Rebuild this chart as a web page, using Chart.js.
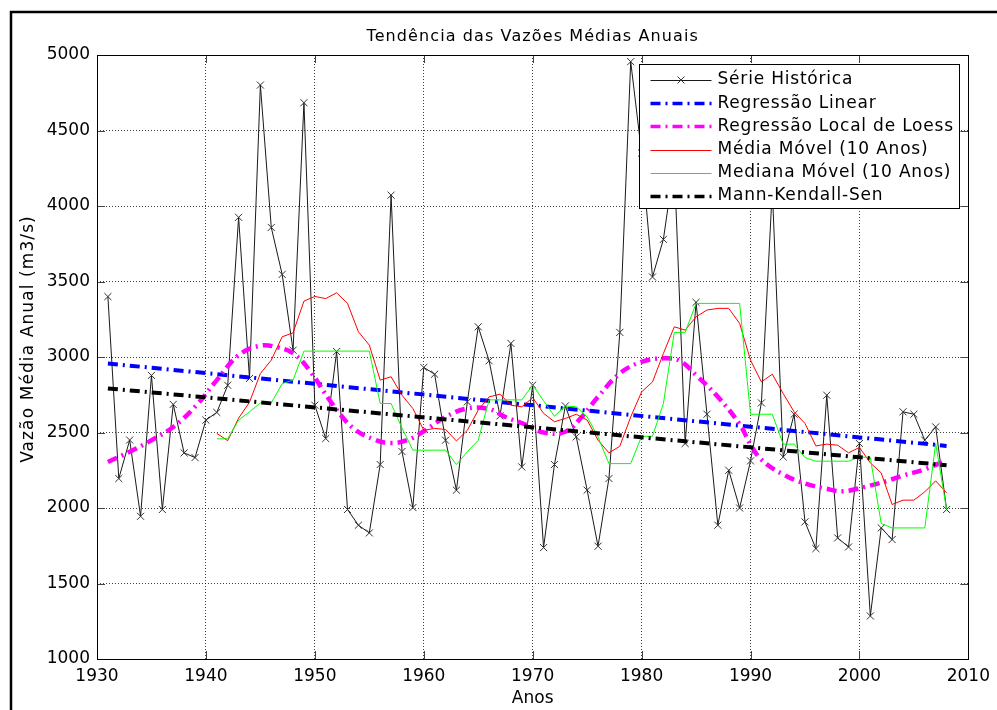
<!DOCTYPE html>
<html lang="pt-BR">
<head>
<meta charset="utf-8">
<title>Tendência das Vazões Médias Anuais</title>
<script src="https://cdn.jsdelivr.net/npm/chart.js@4.4.1/dist/chart.umd.min.js"></script>
<style>
  html, body { margin: 0; padding: 0; background: #fff; }
  canvas { display: block; }
</style>
</head>
<body>
<canvas id="grafico" width="997" height="710"></canvas>
<script>
// Vazões médias anuais observadas (m3/s)
const anos = [1931, 1932, 1933, 1934, 1935, 1936, 1937, 1938, 1939, 1940,
              1941, 1942, 1943, 1944, 1945, 1946, 1947, 1948, 1949, 1950,
              1951, 1952, 1953, 1954, 1955, 1956, 1957, 1958, 1959, 1960,
              1961, 1962, 1963, 1964, 1965, 1966, 1967, 1968, 1969, 1970,
              1971, 1972, 1973, 1974, 1975, 1976, 1977, 1978, 1979, 1980,
              1981, 1982, 1983, 1984, 1985, 1986, 1987, 1988, 1989, 1990,
              1991, 1992, 1993, 1994, 1995, 1996, 1997, 1998, 1999, 2000,
              2001, 2002, 2003, 2004, 2005, 2006, 2007, 2008];
const serieHistorica = [3400, 2195, 2450, 1945, 2878, 1990, 2686, 2365, 2334, 2582,
                        2633, 2813, 3925, 2858, 4801, 3858, 3547, 3045, 4684, 2681,
                        2460, 3036, 1990, 1886, 1835, 2288, 4072, 2374, 2003, 2931,
                        2886, 2449, 2118, 2703, 3200, 2975, 2610, 3090, 2272, 2814,
                        1738, 2288, 2676, 2471, 2118, 1747, 2195, 3163, 4956, 4350,
                        3530, 3779, 4280, 2427, 3362, 2621, 1886, 2250, 2000, 2312,
                        2696, 4110, 2338, 2621, 1908, 1731, 2747, 1802, 1742, 2427,
                        1285, 1868, 1791, 2637, 2621, 2449, 2537, 1990];

// Janelas móveis de 10 anos
const anosMoveis = [1941, 1942, 1943, 1944, 1945, 1946, 1947, 1948, 1949, 1950,
                    1951, 1952, 1953, 1954, 1955, 1956, 1957, 1958, 1959, 1960,
                    1961, 1962, 1963, 1964, 1965, 1966, 1967, 1968, 1969, 1970,
                    1971, 1972, 1973, 1974, 1975, 1976, 1977, 1978, 1979, 1980,
                    1981, 1982, 1983, 1984, 1985, 1986, 1987, 1988, 1989, 1990,
                    1991, 1992, 1993, 1994, 1995, 1996, 1997, 1998, 1999, 2000,
                    2001, 2002, 2003, 2004, 2005, 2006, 2007, 2008];
const mediaMovel = [2494, 2446, 2595, 2700, 2891, 2979, 3134, 3160, 3370, 3401,
                    3387, 3425, 3355, 3167, 3079, 2847, 2869, 2747, 2659, 2515,
                    2527, 2520, 2444, 2515, 2648, 2736, 2754, 2681, 2670, 2731,
                    2627, 2571, 2593, 2621, 2582, 2449, 2365, 2409, 2603, 2769,
                    2835, 3023, 3200, 3178, 3266, 3311, 3322, 3322, 3222, 2979,
                    2835, 2886, 2758, 2637, 2560, 2411, 2423, 2416, 2365, 2401,
                    2299, 2232, 2023, 2052, 2052, 2107, 2180, 2100];
const medianaMovel = [2458, 2458, 2582, 2637, 2696, 2696, 2823, 2847, 3039, 3039,
                      3039, 3039, 3039, 3039, 3039, 2692, 2692, 2530, 2383, 2383,
                      2383, 2383, 2288, 2372, 2449, 2716, 2716, 2716, 2716, 2814,
                      2710, 2608, 2676, 2670, 2603, 2471, 2294, 2294, 2294, 2475,
                      2475, 2692, 3163, 3163, 3355, 3355, 3355, 3355, 3355, 2621,
                      2621, 2621, 2423, 2423, 2334, 2310, 2310, 2310, 2310, 2338,
                      2334, 1897, 1868, 1868, 1868, 1868, 2427, 1990];

// Curva de Loess
const anosLoess = [1931, 1933, 1935, 1937, 1939, 1941, 1943, 1945, 1946.5, 1948,
                   1949.5, 1951.5, 1953.5, 1955.5, 1957, 1958.5, 1960, 1962, 1964, 1966,
                   1967.5, 1969.5, 1971, 1973, 1974.5, 1976, 1978, 1980, 1982, 1983.5,
                   1985, 1987, 1989, 1990, 1991, 1993, 1995, 1997, 1998.5, 2000.5,
                   2002.5, 2004, 2006, 2008];
const regressaoLoess = [2305, 2372, 2449, 2537, 2670, 2847, 3012, 3075, 3065, 3025,
                        2913, 2700, 2530, 2452, 2430, 2450, 2508, 2603, 2659, 2655,
                        2603, 2548, 2500, 2505, 2603, 2736, 2891, 2968, 2991, 2975,
                        2880, 2736, 2555, 2420, 2320, 2222, 2162, 2127, 2111, 2140,
                        2178, 2215, 2257, 2317];

// Retas de tendência (extremos do período)
const anosRetas = [1931, 2008];
const regressaoLinear = [2957, 2411];
const mannKendallSen = [2792, 2283];

const ticksX = [1930, 1940, 1950, 1960, 1970, 1980, 1990, 2000, 2010];
const ticksY = [1000, 1500, 2000, 2500, 3000, 3500, 4000, 4500, 5000];

const pontos = (xs, ys) => xs.map((a, i) => ({ x: a, y: ys[i] }));

Chart.defaults.font.family = '"DejaVu Sans", sans-serif';
Chart.defaults.color = '#000';

const tracoPonto = [10, 5, 2, 5];

// Caixa dos eixos, marcas internas, títulos, legenda e moldura da figura
const moldura = {
    id: 'moldura',
    beforeDraw(chart) {
        const ctx = chart.ctx;
        ctx.save();
        ctx.fillStyle = '#fff';
        ctx.fillRect(0, 0, chart.width, chart.height);
        ctx.restore();
    },
    afterDraw(chart) {
        const { ctx, chartArea: a, scales: { x, y } } = chart;
        ctx.save();

        function linha(x1, y1, x2, y2) {
            ctx.beginPath();
            ctx.moveTo(x1, y1);
            ctx.lineTo(x2, y2);
            ctx.stroke();
        }

        // marcas para dentro nos quatro lados
        ctx.strokeStyle = '#444';
        ctx.lineWidth = 1;
        ticksX.forEach(v => {
            const px = Math.round(x.getPixelForValue(v)) + 0.5;
            linha(px, a.bottom, px, a.bottom - 8);
            linha(px, a.top, px, a.top + 8);
        });
        ticksY.forEach(v => {
            const py = Math.round(y.getPixelForValue(v)) + 0.5;
            linha(a.left, py, a.left + 8, py);
            linha(a.right, py, a.right - 8, py);
        });

        ctx.strokeStyle = '#000';
        ctx.strokeRect(Math.round(a.left) + 0.5, Math.round(a.top) + 0.5,
                       Math.round(a.right - a.left), Math.round(a.bottom - a.top));

        ctx.fillStyle = '#000';
        ctx.textBaseline = 'middle';

        // título
        ctx.font = '16px "DejaVu Sans"';
        ctx.letterSpacing = '1.1px';
        ctx.textAlign = 'center';
        ctx.fillText('Tendência das Vazões Médias Anuais', (a.left + a.right) / 2, 37);

        // rótulo do eixo y
        ctx.save();
        ctx.font = '17px "DejaVu Sans"';
        ctx.letterSpacing = '1.1px';
        ctx.translate(29, 339);
        ctx.rotate(-Math.PI / 2);
        ctx.fillText('Vazão Média Anual (m3/s)', 0, 0);
        ctx.restore();

        // legenda
        const sets = chart.data.datasets;
        ctx.font = '17px "DejaVu Sans"';
        ctx.letterSpacing = '0.8px';
        ctx.textAlign = 'left';
        let maior = 0;
        sets.forEach(d => { maior = Math.max(maior, ctx.measureText(d.label).width); });
        const amostra = 61, passo = 23.2;
        const larg = 11 + amostra + 6 + maior + 6;
        const alt = sets.length * passo + 5;
        const bx = Math.round(a.right - 9 - larg) + 0.5;
        const by = Math.round(a.top + 9) + 0.5;
        ctx.fillStyle = '#fff';
        ctx.fillRect(bx, by, larg, alt);
        ctx.strokeStyle = '#000';
        ctx.lineWidth = 1;
        ctx.strokeRect(bx, by, Math.round(larg), Math.round(alt));

        sets.forEach((d, i) => {
            const cy = by + 15.5 + i * passo;
            const x0 = bx + 11, x1 = x0 + amostra;
            ctx.save();
            ctx.strokeStyle = d.borderColor;
            ctx.lineWidth = Math.min(d.borderWidth, 3.5);
            ctx.setLineDash(d.borderDash || []);
            linha(x0, Math.round(cy) + 0.5, x1, Math.round(cy) + 0.5);
            ctx.restore();
            if (d.pointStyle === 'crossRot') {
                const mx = (x0 + x1) / 2, r = 3.5;
                ctx.strokeStyle = d.pointBorderColor;
                linha(mx - r, cy - r, mx + r, cy + r);
                linha(mx - r, cy + r, mx + r, cy - r);
            }
            ctx.fillStyle = '#000';
            ctx.fillText(d.label, x1 + 6, cy);
        });

        // moldura da figura
        ctx.strokeStyle = '#000';
        ctx.lineWidth = 2.5;
        ctx.setLineDash([]);
        ctx.beginPath();
        ctx.moveTo(11, chart.height);
        ctx.lineTo(11, 12);
        ctx.lineTo(chart.width, 12);
        ctx.stroke();

        ctx.restore();
    }
};

new Chart(document.getElementById('grafico'), {
    type: 'line',
    data: {
        datasets: [
            {
                label: 'Série Histórica',
                data: pontos(anos, serieHistorica),
                borderColor: '#1a1a1a',
                borderWidth: 1,
                pointStyle: 'crossRot',
                pointRadius: 5,
                pointBorderColor: '#333',
                pointBorderWidth: 1,
                pointBackgroundColor: 'transparent',
                order: 5
            },
            {
                label: 'Regressão Linear',
                data: pontos(anosRetas, regressaoLinear),
                borderColor: '#0000ff',
                borderWidth: 4,
                borderDash: tracoPonto,
                pointRadius: 0,
                order: 4
            },
            {
                label: 'Regressão Local de Loess',
                data: pontos(anosLoess, regressaoLoess),
                borderColor: '#ff00ff',
                borderWidth: 4.5,
                borderDash: tracoPonto,
                pointRadius: 0,
                tension: 0.4,
                order: 3
            },
            {
                label: 'Média Móvel (10 Anos)',
                data: pontos(anosMoveis, mediaMovel),
                borderColor: '#ff0000',
                borderWidth: 1,
                pointRadius: 0,
                order: 2
            },
            {
                label: 'Mediana Móvel (10 Anos)',
                data: pontos(anosMoveis, medianaMovel),
                borderColor: '#00ff00',
                borderWidth: 1,
                pointRadius: 0,
                order: 1
            },
            {
                label: 'Mann-Kendall-Sen',
                data: pontos(anosRetas, mannKendallSen),
                borderColor: '#000000',
                borderWidth: 4,
                borderDash: tracoPonto,
                pointRadius: 0,
                order: 0
            }
        ]
    },
    options: {
        responsive: false,
        animation: false,
        layout: { padding: { top: 55, right: 26, bottom: 0, left: 0 } },
        plugins: {
            legend: { display: false },
            tooltip: { enabled: false },
            title: { display: false }
        },
        scales: {
            x: {
                type: 'linear',
                min: 1930,
                max: 2010,
                afterBuildTicks: s => { s.ticks = ticksX.map(v => ({ value: v })); },
                afterFit: s => { s.height = 51; },
                grid: { color: 'rgba(0,0,0,0.75)', drawTicks: false },
                border: { display: false, dash: [1, 2] },
                ticks: { font: { size: 17 }, padding: 7, maxRotation: 0, callback: v => String(v) },
                title: { display: true, text: 'Anos', font: { size: 17 }, padding: { top: 0, bottom: 1 } }
            },
            y: {
                type: 'linear',
                min: 1000,
                max: 5000,
                afterBuildTicks: s => { s.ticks = ticksY.map(v => ({ value: v })); },
                afterFit: s => { s.width = 97; },
                grid: { color: 'rgba(0,0,0,0.75)', drawTicks: false },
                border: { display: false, dash: [1, 2] },
                ticks: { font: { size: 17 }, padding: 7, callback: v => String(v) }
            }
        }
    },
    plugins: [moldura]
});
</script>
</body>
</html>
